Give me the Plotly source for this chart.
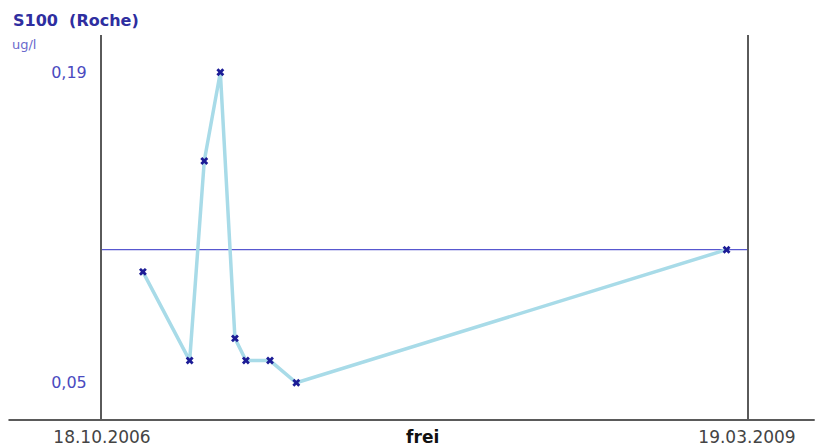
import plotly.graph_objects as go

dates = ["2006-12-13", "2007-02-15", "2007-03-07", "2007-03-29", "2007-04-18",
         "2007-05-03", "2007-06-05", "2007-07-11", "2009-02-19"]
values = [0.10, 0.06, 0.15, 0.19, 0.07, 0.06, 0.06, 0.05, 0.11]
ref_value = 0.11
x_start = "2006-10-18"
x_end = "2009-03-19"
x_mid = "2007-12-31"
x_ticktext = ["18.10.2006", "<b><span style='color:#111111'>frei</span></b>", "19.03.2009"]
y_tickvals = [0.19, 0.05]
y_ticktext = ["0,19", "0,05"]

FONT = "DejaVu Sans"

fig = go.Figure()
fig.add_trace(go.Scatter(
    x=dates, y=values, mode="lines+markers",
    line=dict(color="#a8dbe8", width=3.5),
    marker=dict(symbol="x", size=7, color="#1c1c96", line=dict(width=0)),
    showlegend=False, hoverinfo="skip",
))

fig.add_shape(type="line", xref="paper", yref="y", x0=0, x1=1, y0=ref_value, y1=ref_value,
              line=dict(color="#5858d0", width=1.2), layer="below")
# bottom baseline extending beyond the plot area
fig.add_shape(type="line", xref="paper", yref="paper", x0=-0.145, x1=1.105, y0=0, y1=0,
              line=dict(color="#5a5a5a", width=2))

fig.update_layout(
    width=827, height=448,
    margin=dict(l=102, r=80, t=35, b=28, autoexpand=False),
    paper_bgcolor="white", plot_bgcolor="white",
    font=dict(family=FONT),
    xaxis=dict(
        type="date", range=[x_start, x_end], automargin=False,
        tickvals=[x_start, x_mid, x_end], ticktext=x_ticktext,
        tickfont=dict(size=17, color="#444444", family=FONT),
        ticks="outside", ticklen=2, tickcolor="rgba(0,0,0,0)",
        showgrid=False, zeroline=False, showline=False,
    ),
    yaxis=dict(
        range=[0.0332, 0.2068], automargin=False,
        tickvals=y_tickvals, ticktext=y_ticktext,
        tickfont=dict(size=16, color="#4a4ac0", family=FONT),
        ticks="outside", ticklen=10, tickcolor="rgba(0,0,0,0)",
        showgrid=False, zeroline=False,
        showline=True, mirror=True, linecolor="#5a5a5a", linewidth=2,
    ),
    annotations=[
        dict(text="<b>S100  (Roche)</b>", xref="paper", yref="paper",
             x=(11 - 102) / 645, y=1 + (35 - 20) / 385, xanchor="left", yanchor="middle",
             showarrow=False, font=dict(size=16, color="#2e2ea0", family=FONT)),
        dict(text="ug/l", xref="paper", yref="paper",
             x=(10 - 102) / 645, y=1 + (35 - 44) / 385, xanchor="left", yanchor="middle",
             showarrow=False, font=dict(size=13, color="#6a6acc", family=FONT)),
    ],
)

fig.write_html("out.html", config={"displayModeBar": False},
               post_script="document.body.style.margin='0';")
